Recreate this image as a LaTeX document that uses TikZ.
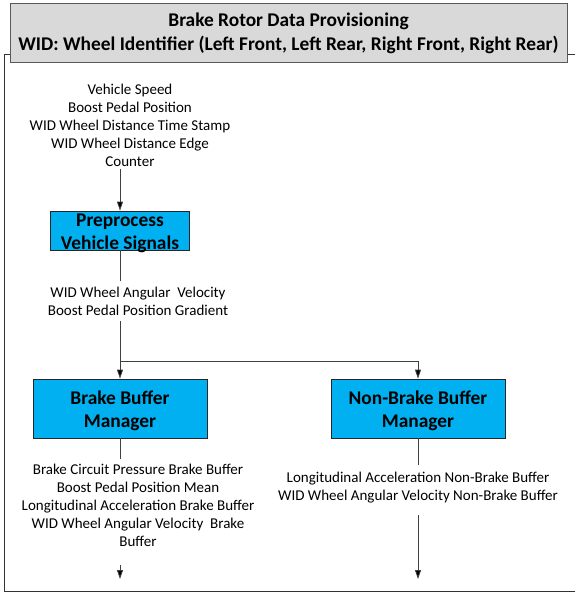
\documentclass[tikz,border=0pt]{standalone}
\usepackage{fontspec}
\setmainfont{Carlito}
\usetikzlibrary{arrows.meta}
\definecolor{boxcyan}{HTML}{00B0F0}
\definecolor{hdrgray}{HTML}{D9D9D9}
\definecolor{lncol}{HTML}{404040}
\tikzset{
  procbox/.style={draw=black!85, line width=0.8pt, fill=boxcyan, inner sep=0pt},
  boxtext/.style={align=center, font=\fontsize{19.4}{23}\selectfont\bfseries, inner sep=0pt},
  sigtext/.style={align=center, font=\fontsize{15}{18}\selectfont, inner xsep=0pt},
  conn/.style={draw=lncol, line width=0.8pt},
  arr/.style={conn, -{Triangle[length=9pt,width=6pt,fill=black]}},
}
\begin{document}
\begin{tikzpicture}[x=1pt,y=-1pt]
\useasboundingbox (0,0) rectangle (574,594);
% outer frame
\draw[draw=black!80, line width=0.8pt] (4,54) rectangle (576,591);
% header
\node[draw=black!65, line width=1pt, fill=hdrgray, minimum width=557pt, minimum height=59pt,
  align=center, inner sep=0pt, font=\fontsize{19.4}{24}\selectfont\bfseries] (hdr) at (288.5,33.5)
  {Brake Rotor Data Provisioning\\WID: Wheel Identifier (Left Front, Left Rear, Right Front, Right Rear)};
% inputs
\node[sigtext, inner ysep=3pt] (in) at (130,125)
  {Vehicle Speed\\Boost Pedal Position\\WID Wheel Distance Time Stamp\\WID Wheel Distance Edge\\Counter};
\node[procbox, minimum width=139pt, minimum height=39pt] (pre) at (120,230.5) {};
\node[boxtext] (pret) at ([yshift=-2.5pt]pre.center) {Preprocess\\Vehicle Signals};
\draw[arr] (in.south -| pre.north) -- (pre.north);
\node[sigtext, inner ysep=6pt] (t1) at (138,301)
  {WID Wheel Angular\ \ Velocity\\Boost Pedal Position Gradient};
\draw[conn] (pre.south) -- (pre.south |- t1.north);
\node[procbox, minimum width=174pt, minimum height=59pt] (bb) at (120,408.5) {};
\node[boxtext] (bbt) at ([yshift=-2pt]bb.center) {Brake Buffer\\Manager};
\node[procbox, minimum width=174pt, minimum height=59pt] (nb) at (418,408.5) {};
\node[boxtext] (nbt) at ([yshift=-2pt]nb.center) {Non-Brake Buffer\\Manager};
\coordinate (split) at (120,361);
\draw[arr] (t1.south -| bb.north) -- (bb.north);
\draw[arr] (split) -| (nb.north);
% outputs brake
\node[sigtext, inner ysep=5pt] (bo) at (138,505)
  {Brake Circuit Pressure Brake Buffer\\Boost Pedal Position Mean\\Longitudinal Acceleration Brake Buffer\\WID Wheel Angular Velocity\ \ Brake\\Buffer};
\coordinate (bend) at (120,579);
\coordinate (bstart) at (120,565);
\draw[conn] (bb.south) -- (bb.south |- bo.north);
\draw[arr] (bstart) -- (bend);
% outputs non-brake
\node[sigtext, inner ysep=7pt] (no) at (418,487.5)
  {Longitudinal Acceleration Non-Brake Buffer\\WID Wheel Angular Velocity Non-Brake Buffer};
\coordinate (nend) at (418,579);
\coordinate (nstart) at (418,515);
\draw[conn] (nb.south) -- (no.north);
\draw[arr] (nstart) -- (nend);
\end{tikzpicture}
\end{document}
